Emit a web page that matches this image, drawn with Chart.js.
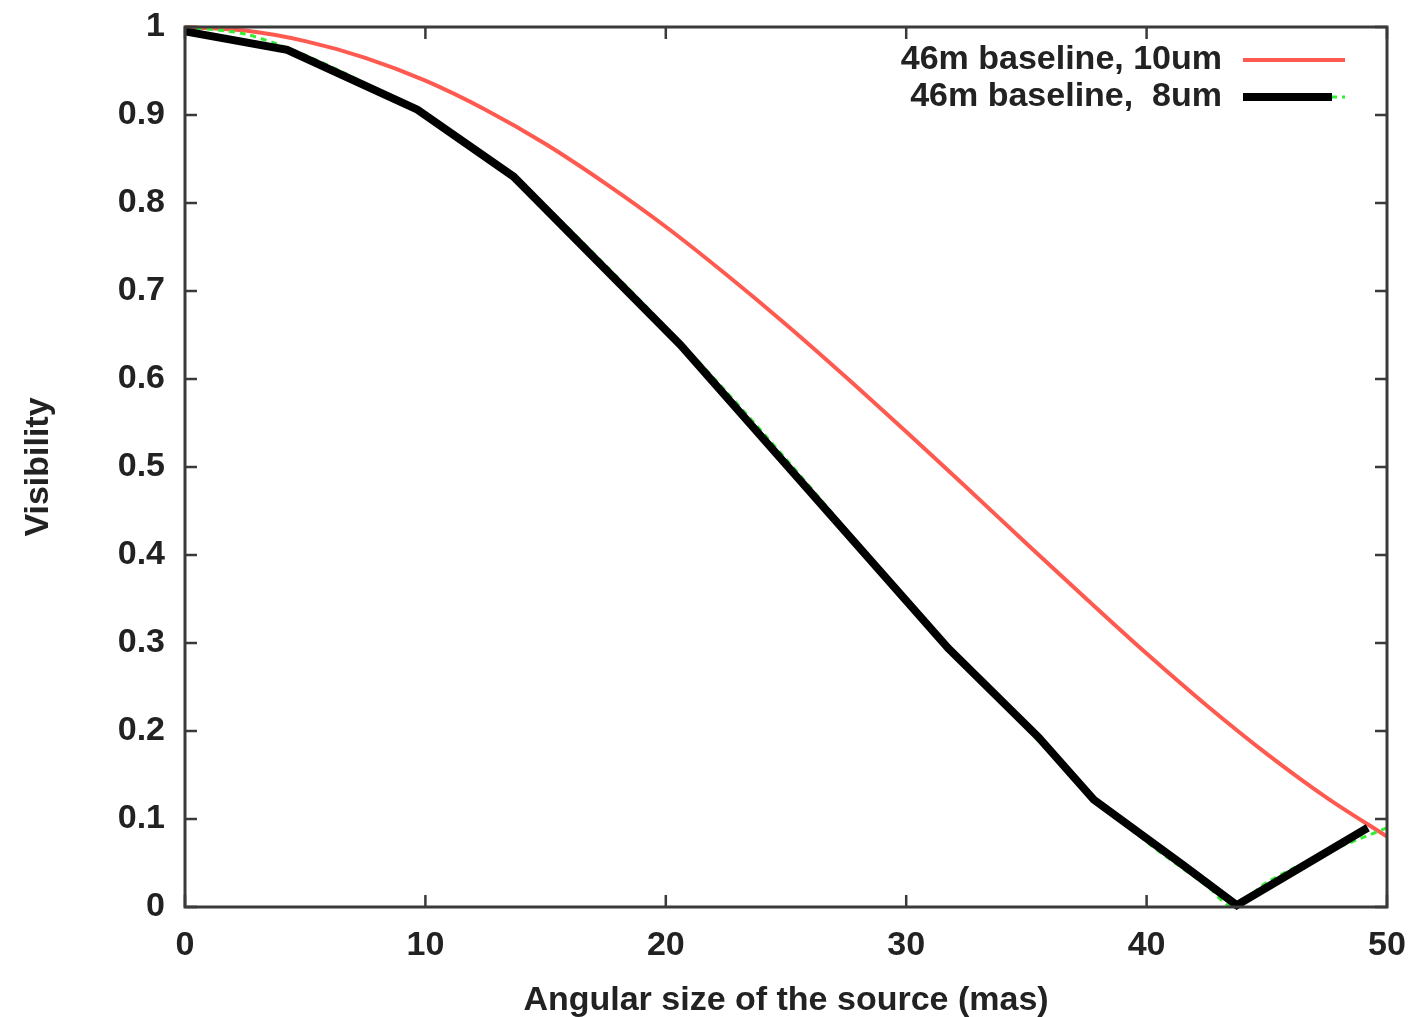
<!DOCTYPE html>
<html>
<head>
<meta charset="utf-8">
<script src="https://cdn.jsdelivr.net/npm/chart.js@4/dist/chart.umd.min.js"></script>
<style>
  html, body { margin: 0; padding: 0; background: #fff; }
  #chart { display: block; }
</style>
</head>
<body>
<canvas id="chart" width="1427" height="1017"></canvas>
<script>
// values
const xRed = [0, 2.5, 5, 7.5, 10, 12.5, 15, 17.5, 20, 22.5, 25, 27.5, 30, 32.5, 35, 37.5, 40, 42.5, 45, 47.5, 50];
const vRed = [1.0, 0.996, 0.984, 0.965, 0.939, 0.906, 0.867, 0.822, 0.773, 0.719, 0.662, 0.602, 0.540, 0.477, 0.413, 0.350, 0.288, 0.229, 0.174, 0.124, 0.08];

const xGreen = [0, 2.5, 5, 7.5, 10, 12.5, 15, 17.5, 20, 22.5, 25, 27.5, 30, 32.5, 35, 37.5, 40, 42.5, 43.6, 45, 47.5, 50];
const vGreen = [1.0, 0.992, 0.968, 0.936, 0.9, 0.853, 0.796, 0.729, 0.659, 0.586, 0.509, 0.429, 0.349, 0.275, 0.203, 0.133, 0.074, 0.024, 0.0, 0.028, 0.062, 0.09];

const xBlack = [0, 4.25, 9.67, 13.67, 20.6, 31.75, 35.5, 37.8, 41.5, 43.75, 49.2];
const vBlack = [0.995, 0.974, 0.906, 0.83, 0.639, 0.294, 0.193, 0.122, 0.048, 0.002, 0.09];

const xTicks = [0, 10, 20, 30, 40, 50];
const yTicks = [0, 0.1, 0.2, 0.3, 0.4, 0.5, 0.6, 0.7, 0.8, 0.9, 1];

const legendLabels = ['46m baseline, 10um', '46m baseline,  8um'];

function pts(xs, ys) {
    return xs.map((x, i) => ({ x: x, y: ys[i] }));
}

const FONT = '"Liberation Sans", Arial, sans-serif';
const TXT = '#222';
const RED = '#ff5a50';
const GREEN = '#33ee33';

// frame with gnuplot style inward ticks on all sides
const framePlugin = {
    id: 'frame',
    afterDatasetsDraw(chart) {
        const c = chart.ctx;
        const a = chart.chartArea;
        const xs = chart.scales.x, ys = chart.scales.y;
        c.save();
        c.strokeStyle = '#3a3a3a';
        c.lineWidth = 3;
        c.strokeRect(a.left, a.top, a.right - a.left, a.bottom - a.top);
        c.lineWidth = 2.5;
        c.beginPath();
        xTicks.forEach(t => {
            const px = xs.getPixelForValue(t);
            c.moveTo(px, a.bottom); c.lineTo(px, a.bottom - 12);
            c.moveTo(px, a.top); c.lineTo(px, a.top + 12);
        });
        yTicks.forEach(t => {
            const py = ys.getPixelForValue(t);
            c.moveTo(a.left, py); c.lineTo(a.left + 12, py);
            c.moveTo(a.right, py); c.lineTo(a.right - 12, py);
        });
        c.stroke();
        c.restore();
    }
};

// key in the top right corner: text then line sample
const keyPlugin = {
    id: 'key',
    afterDraw(chart) {
        const c = chart.ctx;
        c.save();
        c.font = 'bold 34px ' + FONT;
        c.fillStyle = TXT;
        c.textAlign = 'right';
        c.textBaseline = 'middle';
        const rows = [60, 97];
        c.fillText(legendLabels[0], 1222, rows[0]);
        c.fillText(legendLabels[1], 1222, rows[1]);
        c.lineCap = 'butt';
        c.strokeStyle = RED;
        c.lineWidth = 4;
        c.beginPath(); c.moveTo(1243, rows[0]); c.lineTo(1345, rows[0]); c.stroke();
        c.strokeStyle = GREEN;
        c.lineWidth = 3;
        c.setLineDash([6, 5]);
        c.beginPath(); c.moveTo(1243, rows[1]); c.lineTo(1345, rows[1]); c.stroke();
        c.setLineDash([]);
        c.strokeStyle = '#000';
        c.lineWidth = 8;
        c.beginPath(); c.moveTo(1243, rows[1]); c.lineTo(1332, rows[1]); c.stroke();
        c.restore();
    }
};

const ctx = document.getElementById('chart').getContext('2d');
const chart = new Chart(ctx, {
    type: 'scatter',
    data: {
        datasets: [
            {
                label: legendLabels[1],
                data: pts(xBlack, vBlack),
                showLine: true,
                borderColor: '#000',
                borderWidth: 8,
                pointRadius: 0,
                order: 0
            },
            {
                label: legendLabels[1],
                data: pts(xGreen, vGreen),
                showLine: true,
                borderColor: GREEN,
                borderWidth: 3,
                borderDash: [6, 5],
                tension: 0.3,
                pointRadius: 0,
                order: 1
            },
            {
                label: legendLabels[0],
                data: pts(xRed, vRed),
                showLine: true,
                borderColor: RED,
                borderWidth: 4,
                tension: 0.3,
                pointRadius: 0,
                order: 2
            }
        ]
    },
    options: {
        responsive: false,
        animation: false,
        devicePixelRatio: 1,
        clip: false,
        layout: { padding: { top: 27, right: 40, left: 0, bottom: 0 } },
        plugins: {
            legend: { display: false },
            tooltip: { enabled: false }
        },
        scales: {
            x: {
                type: 'linear',
                min: 0, max: 50,
                afterBuildTicks: s => { s.ticks = xTicks.map(v => ({ value: v })); },
                afterFit: s => { s.height = 110; s.paddingLeft = 0; s.paddingRight = 0; },
                grid: { display: false, drawTicks: false },
                border: { display: false },
                ticks: {
                    padding: 18,
                    color: TXT,
                    font: { family: FONT, size: 34, weight: 'bold' },
                    maxRotation: 0,
                    callback: v => String(v)
                },
                title: {
                    display: true,
                    text: 'Angular size of the source (mas)',
                    color: TXT,
                    font: { family: FONT, size: 34, weight: 'bold' },
                    padding: { top: 11, bottom: -4 }
                }
            },
            y: {
                type: 'linear',
                min: 0, max: 1,
                afterBuildTicks: s => { s.ticks = yTicks.map(v => ({ value: v })); },
                afterFit: s => { s.width = 185; s.paddingTop = 0; s.paddingBottom = 0; },
                grid: { display: false, drawTicks: false },
                border: { display: false },
                ticks: {
                    padding: 20,
                    color: TXT,
                    font: { family: FONT, size: 34, weight: 'bold' },
                    callback: v => String(Math.round(v * 10) / 10)
                },
                title: {
                    display: true,
                    text: 'Visibility',
                    color: TXT,
                    font: { family: FONT, size: 34, weight: 'bold' },
                    padding: { top: 18, bottom: 0 }
                }
            }
        }
    },
    plugins: [framePlugin, keyPlugin]
});
</script>
</body>
</html>
